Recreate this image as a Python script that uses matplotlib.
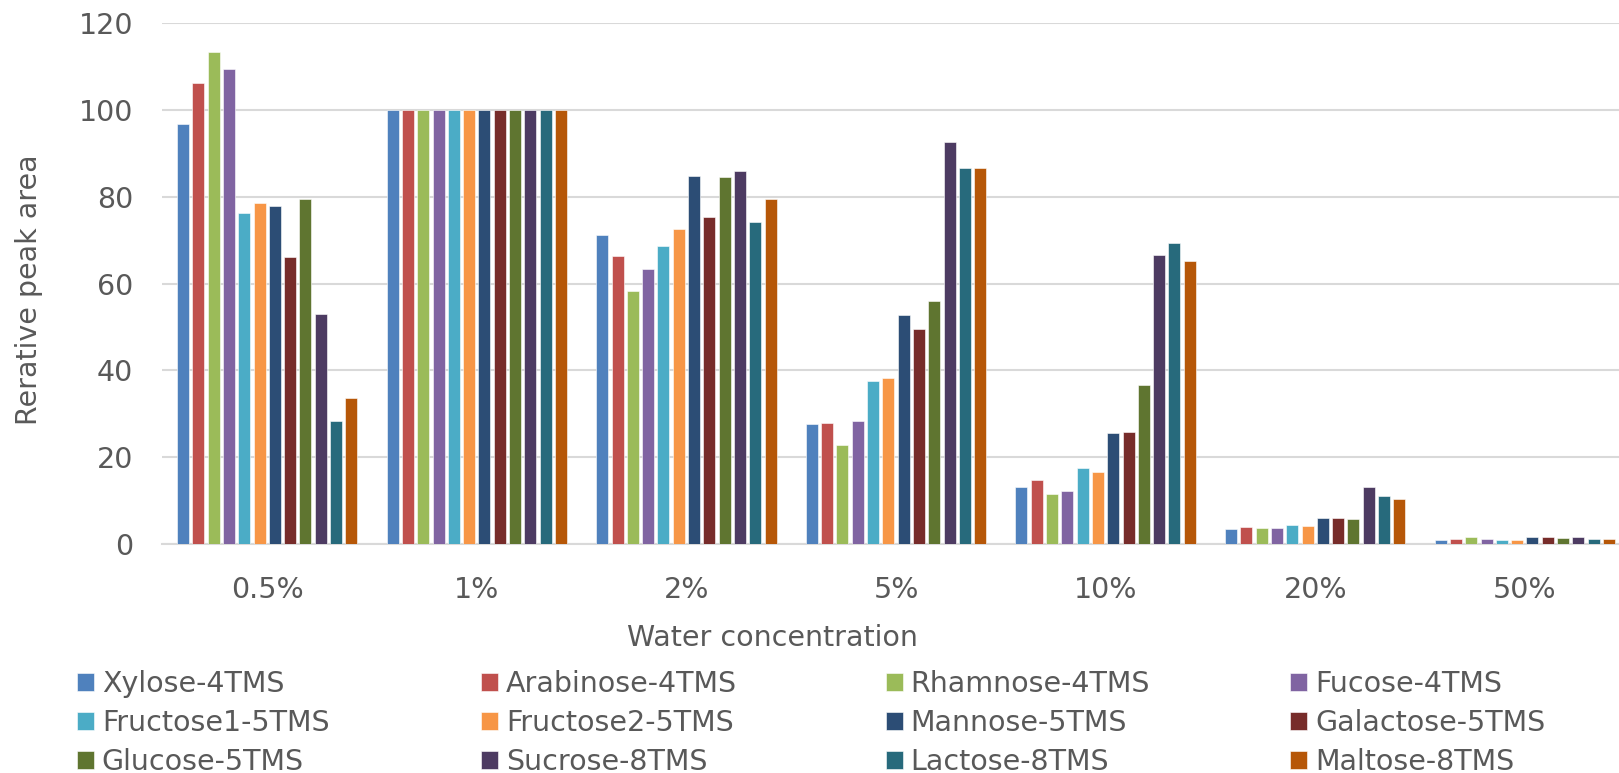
import matplotlib
matplotlib.use("Agg")
import matplotlib.pyplot as plt
import numpy as np

plt.rcParams['font.family'] = ['DejaVu Sans']

concentrations = ["0.5%", "1%", "2%", "5%", "10%", "20%", "50%"]

series_names = [
    "Xylose-4TMS", "Arabinose-4TMS", "Rhamnose-4TMS", "Fucose-4TMS",
    "Fructose1-5TMS", "Fructose2-5TMS", "Mannose-5TMS", "Galactose-5TMS",
    "Glucose-5TMS", "Sucrose-8TMS", "Lactose-8TMS", "Maltose-8TMS",
]

xylose    = [96.7, 100, 71.3, 27.7, 13.2, 3.4, 0.9]
arabinose = [106.2, 100, 66.3, 27.8, 14.8, 4.0, 1.2]
rhamnose  = [113.4, 100, 58.2, 22.9, 11.6, 3.6, 1.6]
fucose    = [109.5, 100, 63.4, 28.3, 12.1, 3.8, 1.1]
fructose1 = [76.3, 100, 68.6, 37.5, 17.6, 4.3, 1.0]
fructose2 = [78.6, 100, 72.6, 38.2, 16.7, 4.2, 1.0]
mannose   = [77.8, 100, 84.8, 52.8, 25.6, 5.9, 1.6]
galactose = [66.1, 100, 75.3, 49.5, 25.9, 5.9, 1.5]
glucose   = [79.4, 100, 84.5, 55.9, 36.7, 5.7, 1.4]
sucrose   = [53.0, 100, 86.0, 92.6, 66.7, 13.2, 1.7]
lactose   = [28.3, 100, 74.1, 86.6, 69.4, 11.1, 1.1]
maltose   = [33.7, 100, 79.5, 86.6, 65.2, 10.4, 1.2]

series_values = [xylose, arabinose, rhamnose, fucose, fructose1, fructose2,
                 mannose, galactose, glucose, sucrose, lactose, maltose]

colors = ["#4F81BD", "#C0504D", "#9BBB59", "#8064A2", "#4BACC6", "#F79646",
          "#2C4D75", "#772C2A", "#5F7530", "#4D3B62", "#276A7C", "#B65708"]

y_ticks = [0, 20, 40, 60, 80, 100, 120]

W, H = 1619, 773
fig = plt.figure(figsize=(W / 100, H / 100), dpi=100)
ax_left, ax_right = 162.4, 1629.6
ax_bottom, ax_top = 544.0, 23.3
ax = fig.add_axes([ax_left / W, 1 - ax_bottom / H,
                   (ax_right - ax_left) / W, (ax_bottom - ax_top) / H])

text_color = "#595959"
grid_color = "#D9D9D9"
fs = 20.5

n = len(series_names)
x = np.arange(len(concentrations))
slot = 0.073
group_w = slot * n
bar_w = 0.0573

handles = []
for i, (name, vals, col) in enumerate(zip(series_names, series_values, colors)):
    offs = -group_w / 2 + slot * (i + 0.5)
    b = ax.bar(x + offs, vals, width=bar_w, color=col, edgecolor="white",
               linewidth=0.4, label=name, zorder=3)
    handles.append(b)

ax.set_xlim(-0.5, len(concentrations) - 0.5)
ax.set_ylim(0, 120)
ax.set_yticks(y_ticks)
ax.set_xticks(x)
ax.set_xticklabels(concentrations)
ax.yaxis.grid(True, color=grid_color, linewidth=1.5, zorder=0)
ax.set_axisbelow(True)
for s in ["left", "right", "top"]:
    ax.spines[s].set_visible(False)
ax.spines["bottom"].set_color(grid_color)
ax.spines["bottom"].set_linewidth(1.5)
ax.tick_params(axis="both", length=0, labelsize=fs, labelcolor=text_color)
ax.tick_params(axis="y", pad=21)
ax.tick_params(axis="x", pad=23)

fig.text(36.7 / W, 1 - 290 / H, "Rerative peak area", rotation=90,
         rotation_mode="anchor", ha="center", va="baseline",
         fontsize=fs, color=text_color)
fig.text(772.8 / W, 1 - 645.7 / H, "Water concentration",
         ha="center", va="baseline", fontsize=fs, color=text_color)

col_x = [76.7, 481.1, 885.5, 1289.9]
for c in range(4):
    hs = [handles[r * 4 + c] for r in range(3)]
    labs = [series_names[r * 4 + c] for r in range(3)]
    fig.legend(hs, labs, loc="upper left",
               bbox_to_anchor=(col_x[c] / W, 1 - 670 / H),
               frameon=False, fontsize=fs, borderpad=0, borderaxespad=0,
               handlelength=0.6, handleheight=0.6, handletextpad=0.28,
               labelspacing=0.38, labelcolor=text_color)

fig.savefig("out.png", dpi=100, facecolor="white")
